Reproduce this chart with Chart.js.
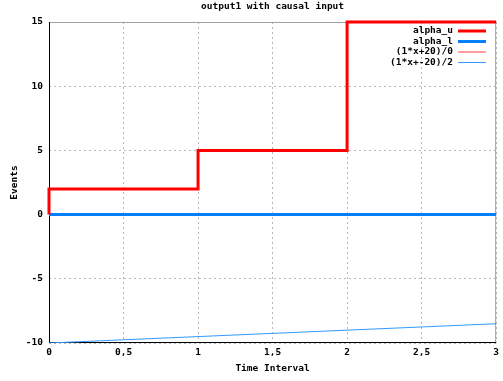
<!DOCTYPE html>
<html><head><meta charset="utf-8">
<script src="https://cdn.jsdelivr.net/npm/chart.js@4"></script>
<style>html,body{margin:0;padding:0;background:#fff}canvas{display:block}</style>
</head><body>
<div style="width:503px;height:381px"><canvas id="c" width="503" height="381"></canvas></div>
<script>
const titleText = "output1 with causal input";
const xTitle = "Time Interval";
const yTitle = "Events";
const alphaUX = [0, 0, 1, 1, 2, 2, 3];
const alphaUY = [0, 2, 2, 5, 5, 15, 15];
const alphaLX = [0, 3];
const alphaLY = [0, 0];
const upperBoundX = [];
const upperBoundY = [];
const lowerBoundX = [0, 3];
const lowerBoundY = [-10, -8.5];
const xTicks = [0, 0.5, 1, 1.5, 2, 2.5, 3];
const yTicks = [-10, -5, 0, 5, 10, 15];

const FONT = '"DejaVu Sans Mono", "Liberation Mono", monospace';
const FS = 9.5;
const pts = (xs, ys) => xs.map((x, i) => ({x, y: ys[i]}));

const framePlugin = {
  id: 'frame',
  beforeDatasetsDraw(chart) {
    const {ctx, chartArea: a} = chart;
    ctx.save();
    ctx.strokeStyle = '#a0a0a0';
    ctx.lineWidth = 1;
    ctx.beginPath();
    ctx.moveTo(a.left, a.top + 0.5); ctx.lineTo(a.right, a.top + 0.5);
    ctx.moveTo(a.right - 0.5, a.top); ctx.lineTo(a.right - 0.5, a.bottom);
    ctx.stroke();
    ctx.strokeStyle = '#000';
    ctx.beginPath();
    ctx.moveTo(a.left + 0.5, a.top); ctx.lineTo(a.left + 0.5, a.bottom);
    ctx.moveTo(a.left, a.bottom - 0.5); ctx.lineTo(a.right, a.bottom - 0.5);
    ctx.stroke();
    ctx.restore();
  },
  afterDatasetsDraw(chart) {
    const {ctx, chartArea: a} = chart;
    ctx.save();
    ctx.fillStyle = '#000';
    ctx.font = 'bold ' + FS + 'px ' + FONT;
    ctx.textAlign = 'center';
    ctx.textBaseline = 'middle';
    ctx.fillText(titleText, (a.left + a.right) / 2, 7);
    ctx.textAlign = 'right';
    chart.data.datasets.forEach((ds, i) => {
      const y = 31 + i * 10.5;
      ctx.fillText(ds.label, 453, y);
      ctx.strokeStyle = ds.borderColor;
      ctx.lineWidth = ds.borderWidth;
      ctx.beginPath();
      ctx.moveTo(458, y); ctx.lineTo(486, y);
      ctx.stroke();
    });
    ctx.restore();
  }
};

new Chart(document.getElementById('c'), {
  type: 'scatter',
  data: {
    datasets: [
      {label: 'alpha_u', data: pts(alphaUX, alphaUY), showLine: true, borderColor: '#ff0000', borderWidth: 3, pointRadius: 0, fill: false, clip: 3},
      {label: 'alpha_l', data: pts(alphaLX, alphaLY), showLine: true, borderColor: '#0080ff', borderWidth: 3, pointRadius: 0, fill: false, clip: 3},
      {label: '(1*x+20)/0', data: pts(upperBoundX, upperBoundY), showLine: true, borderColor: '#ff4040', borderWidth: 1, pointRadius: 0},
      {label: '(1*x+-20)/2', data: pts(lowerBoundX, lowerBoundY), showLine: true, borderColor: '#3399ff', borderWidth: 1, pointRadius: 0}
    ]
  },
  options: {
    responsive: false,
    animation: false,
    layout: {padding: {top: 22, right: 6, left: 0, bottom: 0}},
    plugins: {legend: {display: false}, tooltip: {enabled: false}, title: {display: false}},
    scales: {
      x: {
        type: 'linear', min: 0, max: 3,
        afterBuildTicks: s => { s.ticks = xTicks.map(v => ({value: v})); },
        afterFit: s => { s.height = 38; },
        ticks: {font: {family: FONT, size: FS, weight: 'bold'}, color: '#000', padding: 4, maxRotation: 0,
          callback: v => String(v).replace('.', ',')},
        grid: {color: '#b8b8b8', drawTicks: false},
        border: {display: false, dash: [2, 3]},
        title: {display: true, text: xTitle, font: {family: FONT, size: FS, weight: 'bold'}, color: '#000', padding: {top: 1, bottom: 7}}
      },
      y: {
        type: 'linear', min: -10, max: 15,
        afterBuildTicks: s => { s.ticks = yTicks.map(v => ({value: v})); },
        afterFit: s => { s.width = 49; },
        ticks: {font: {family: FONT, size: FS, weight: 'bold'}, color: '#000', padding: 6},
        grid: {color: '#b8b8b8', drawTicks: false},
        border: {display: false, dash: [2, 3]},
        title: {display: true, text: yTitle, font: {family: FONT, size: FS, weight: 'bold'}, color: '#000', padding: {top: 9, bottom: 0}}
      }
    }
  },
  plugins: [framePlugin]
});
</script>
</body></html>
